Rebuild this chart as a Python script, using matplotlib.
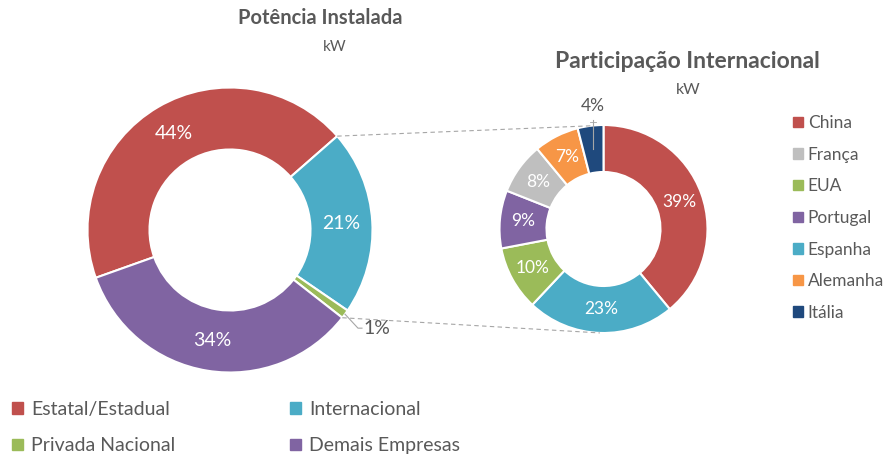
import matplotlib
matplotlib.use("Agg")
import matplotlib.pyplot as plt
import matplotlib.patches as mpatches
import numpy as np

plt.rcParams['font.family'] = ['Lato', 'DejaVu Sans']

# Potência instalada (%)
categorias = ["Estatal/Estadual", "Internacional", "Privada Nacional", "Demais Empresas"]
valores = [44, 21, 1, 34]
cores = ["#C0504D", "#4BACC6", "#9BBB59", "#8064A2"]

# Participação internacional (%), na ordem do anel
paises = ["China", "Espanha", "EUA", "Portugal", "França", "Alemanha", "Itália"]
valores_int = [39, 23, 10, 9, 8, 7, 4]
cores_int = ["#C0504D", "#4BACC6", "#9BBB59", "#8064A2", "#BFBFBF", "#F79646", "#1F497D"]
ordem_legenda = ["China", "França", "EUA", "Portugal", "Espanha", "Alemanha", "Itália"]

CINZA = "#595959"
LINHA = "#A6A6A6"
W, H = 890, 455

fig = plt.figure(figsize=(W / 100, H / 100), dpi=100)
ax = fig.add_axes([0, 0, 1, 1])

# geometria (pixels, y para cima)
c1, r1, w1 = (230, H - 230), 142.5, 62
c2, r2, w2 = (603.5, H - 229), 104, 47

wedges1, _ = ax.pie(valores, colors=cores, startangle=199.6, counterclock=False,
                    center=c1, radius=r1,
                    wedgeprops=dict(width=w1, edgecolor='white', linewidth=1.5))
wedges2, _ = ax.pie(valores_int, colors=cores_int, startangle=90, counterclock=False,
                    center=c2, radius=r2,
                    wedgeprops=dict(width=w2, edgecolor='white', linewidth=1.5))
ax.set_xlim(0, W)
ax.set_ylim(0, H)
ax.set_aspect('equal')
ax.axis('off')


def ponto(c, r, ang):
    a = np.deg2rad(ang)
    return c[0] + r * np.cos(a), c[1] + r * np.sin(a)


def rotulos(wedges, vals, c, r, w, pular, fs):
    for wd, v in zip(wedges, vals):
        if v in pular:
            continue
        mid = (wd.theta1 + wd.theta2) / 2
        x, y = ponto(c, r - w / 2, mid)
        ax.text(x, y, f"{v}%", color='white', fontsize=fs, ha='center', va='center')


rotulos(wedges1, valores, c1, r1, w1, [1], 14)
rotulos(wedges2, valores_int, c2, r2, w2, [4], 12.5)

# rótulo 1% (fora, com linha guia)
g = wedges1[2]
mid = (g.theta1 + g.theta2) / 2
x0, y0 = ponto(c1, r1, mid)
ax.plot([x0, x0 + 13, x0 + 17], [y0, y0 - 14, y0 - 14], color=LINHA, lw=0.8)
ax.text(x0 + 18, y0 - 14, "1%", color=CINZA, fontsize=14, ha='left', va='center')

# rótulo 4% (acima, com linha guia)
it = wedges2[-1]
mid = (it.theta1 + it.theta2) / 2
x0, y0 = ponto(c2, r2 - w2 / 2, mid)
ax.plot([x0, x0], [y0, y0 + 29], color=LINHA, lw=0.8)
ax.plot([x0 - 3, x0 + 3], [y0 + 27, y0 + 27], color=LINHA, lw=0.6)
ax.text(x0 - 1, y0 + 43, "4%", color=CINZA, fontsize=12.5, ha='center', va='center')

# linhas tracejadas ligando os gráficos
a = ponto(c1, r1, wedges1[1].theta2)
b = ponto(c2, r2, (it.theta1 + it.theta2) / 2)
ax.plot([a[0], b[0]], [a[1], b[1]], color=LINHA, lw=0.8, ls=(0, (4, 3)))
a = ponto(c1, r1, wedges1[2].theta1)
b = ponto(c2, r2, -92)
ax.plot([a[0], b[0]], [a[1], b[1]], color=LINHA, lw=0.8, ls=(0, (4, 3)))

# títulos
ax.text(320, H - 18, "Potência Instalada", fontsize=14.5, fontweight='bold',
        color=CINZA, ha='center', va='center')
ax.text(335, H - 47, "kW", fontsize=11, color=CINZA, ha='center', va='center')
ax.text(687, H - 62, "Participação Internacional", fontsize=16.5, fontweight='bold',
        color=CINZA, ha='center', va='center')
ax.text(688, H - 90, "kW", fontsize=11.5, color=CINZA, ha='center', va='center')

estilo = dict(frameon=False, labelcolor=CINZA, borderpad=0, borderaxespad=0,
              loc='upper left', bbox_transform=ax.transData)

# legenda da direita
mapa = dict(zip(paises, cores_int))
hs = [mpatches.Patch(color=mapa[p], label=p) for p in ordem_legenda]
fig.legend(handles=hs, bbox_to_anchor=(793, H - 115), fontsize=12.5,
           labelspacing=0.9, handlelength=0.55, handleheight=0.55,
           handletextpad=0.3, **estilo)

# legenda inferior (duas colunas)
hs = [mpatches.Patch(color=cc, label=cat) for cat, cc in zip(categorias, cores)]
for col, x in [([hs[0], hs[2]], 12), ([hs[1], hs[3]], 290)]:
    fig.legend(handles=col, bbox_to_anchor=(x, H - 401), fontsize=14,
               labelspacing=1.0, handlelength=0.55, handleheight=0.55,
               handletextpad=0.45, **estilo)

fig.savefig("out.png", dpi=100)
